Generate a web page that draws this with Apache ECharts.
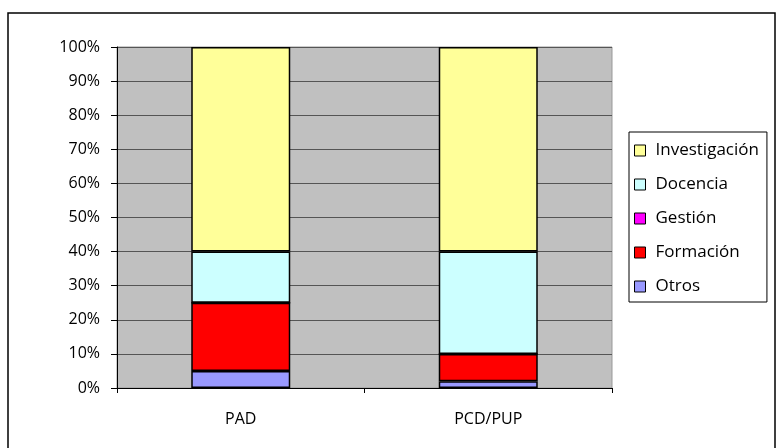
<!DOCTYPE html>
<html>
<head>
<meta charset="utf-8">
<script src="https://cdn.jsdelivr.net/npm/echarts@6/dist/echarts.min.js"></script>
<style>html,body{margin:0;padding:0;background:#fff;}#c{width:776px;height:448px;}</style>
</head>
<body>
<div id="c"></div>
<script>
var categories = ['PAD', 'PCD/PUP'];
var otros = [0.05, 0.02];
var formacion = [0.20, 0.08];
var gestion = [0, 0];
var docencia = [0.15, 0.30];
var investigacion = [0.60, 0.60];
var yTicks = [0, 0.1, 0.2, 0.3, 0.4, 0.5, 0.6, 0.7, 0.8, 0.9, 1];

var FONT = 'Open Sans';
function bar(name, data, color) {
  return {
    name: name, type: 'bar', stack: 's', data: data, barWidth: '40%',
    itemStyle: {color: color, borderColor: '#000', borderWidth: 1.5},
    emphasis: {disabled: true}
  };
}
var chart = echarts.init(document.getElementById('c'));
chart.setOption({
  animation: false,
  textStyle: {fontFamily: FONT},
  graphic: [{type: 'rect', shape: {x: 8, y: 13, width: 767, height: 460}, style: {fill: 'none', stroke: '#000', lineWidth: 1.5}, z: 100}],
  grid: {left: 117, right: 164, top: 47, bottom: 60, show: true, backgroundColor: '#C0C0C0', borderColor: '#999', borderWidth: 1},
  legend: {
    orient: 'vertical', left: 629, top: 132,
    data: ['Investigación', 'Docencia', 'Gestión', 'Formación', 'Otros'],
    icon: 'rect', itemWidth: 11, itemHeight: 11, itemGap: 17,
    padding: [10, 8, 7, 5],
    borderColor: '#000', borderWidth: 1,
    textStyle: {fontFamily: FONT, fontSize: 17, color: '#000', padding: [0, 0, 0, 5]},
    itemStyle: {borderColor: '#000', borderWidth: 1},
    selectedMode: false
  },
  xAxis: {
    type: 'category', data: categories,
    axisLine: {lineStyle: {color: '#000', width: 1}},
    axisTick: {show: true, length: 5, lineStyle: {color: '#000'}},
    axisLabel: {fontFamily: FONT, fontSize: 16, color: '#000', margin: 23}
  },
  yAxis: {
    type: 'value', min: 0, max: 1, interval: 0.1,
    axisLine: {show: true, lineStyle: {color: '#000', width: 1}},
    axisTick: {show: true, length: 6, lineStyle: {color: '#000'}},
    splitLine: {lineStyle: {color: '#555', width: 1}},
    axisLabel: {fontFamily: FONT, fontSize: 16, color: '#000', margin: 17,
      formatter: function (v) { return Math.round(v * 100) + '%'; }}
  },
  series: [
    bar('Otros', otros, '#9999FF'),
    bar('Formación', formacion, '#FF0000'),
    bar('Gestión', gestion, '#FF00FF'),
    bar('Docencia', docencia, '#CCFFFF'),
    bar('Investigación', investigacion, '#FFFF99')
  ]
});
</script>
</body>
</html>
